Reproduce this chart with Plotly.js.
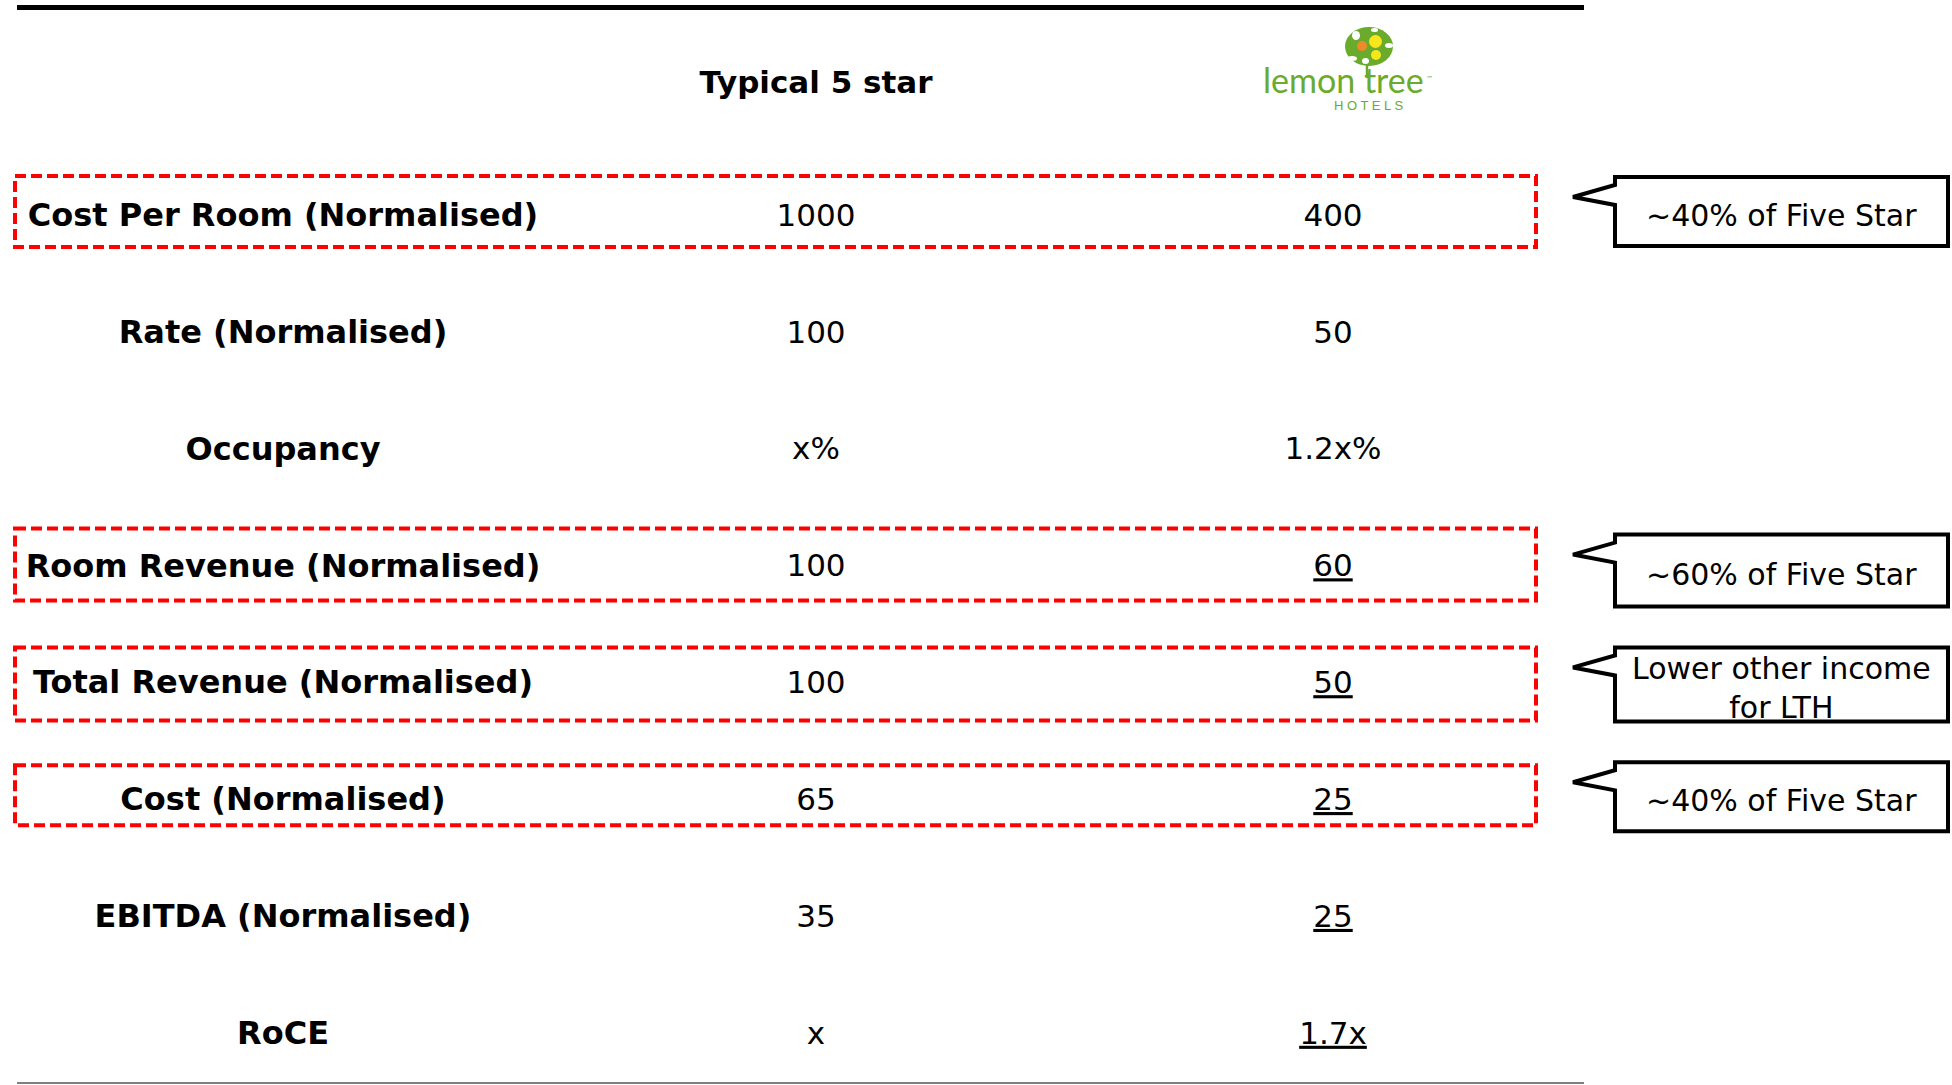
<!DOCTYPE html>
<html>
<head>
<meta charset="utf-8">
<script src="https://cdn.plot.ly/plotly-3.0.1.min.js"></script>
<style>html,body{margin:0;padding:0;background:#fff;}#chart{width:1952px;height:1085px;}</style>
</head>
<body>
<div id="chart"></div>
<script>
// ---------- DATA ----------
const rowLabels = ["Cost Per Room (Normalised)", "Rate (Normalised)", "Occupancy",
  "Room Revenue (Normalised)", "Total Revenue (Normalised)", "Cost (Normalised)",
  "EBITDA (Normalised)", "RoCE"];
const fiveStarValues = ["1000", "100", "x%", "100", "100", "65", "35", "x"];
const lemonTreeValues = ["400", "50", "1.2x%", "60", "50", "25", "25", "1.7x"];
const lemonTreeUnderlined = [false, false, false, true, true, true, true, true];
const columnHeader = "Typical 5 star";
const highlightedRows = ["Cost Per Room (Normalised)", "Room Revenue (Normalised)",
  "Total Revenue (Normalised)", "Cost (Normalised)"];
const calloutTexts = ["~40% of Five Star", "~60% of Five Star",
  "Lower other income<br>for LTH", "~40% of Five Star"];

// ---------- LAYOUT CONSTANTS ----------
const W = 1952, H = 1085;
const ROW0_PX = 214, ROW_STEP = 116.86, TEXT_SHIFT = 4;
const COL_X = [283, 816, 1333];
const FONT = "DejaVu Sans, Verdana, sans-serif";
const px = x => x / W;
const py = y => 1 - y / H;
const rowIdx = rowLabels.map((_, i) => i);
const rowPx = i => ROW0_PX + i * ROW_STEP;
const boxPad = [[38, 33], [36, 36], [34, 39], [33, 27]];
const calloutOff = [[-37, 32], [-30, 42], [-34, 40], [-36, 33]];

const traces = [
  { type: "scatter", mode: "text", x: rowLabels.map(() => COL_X[0]), y: rowIdx, text: rowLabels,
    textposition: "middle center", cliponaxis: false, hoverinfo: "skip",
    textfont: { family: FONT, size: 32, color: "#000", weight: "bold" } },
  { type: "scatter", mode: "text", x: fiveStarValues.map(() => COL_X[1]), y: rowIdx, text: fiveStarValues,
    textposition: "middle center", cliponaxis: false, hoverinfo: "skip",
    textfont: { family: FONT, size: 31, color: "#000" } },
  { type: "scatter", mode: "text", x: lemonTreeValues.map(() => COL_X[2]), y: rowIdx,
    text: lemonTreeValues.map((v, i) => lemonTreeUnderlined[i] ? "<u>" + v + "</u>" : v),
    textposition: "middle center", cliponaxis: false, hoverinfo: "skip",
    textfont: { family: FONT, size: 31, color: "#000" } },
  { type: "scatter", mode: "text", x: [COL_X[1]], y: [(81.5 - ROW0_PX) / ROW_STEP], text: [columnHeader],
    textposition: "middle center", cliponaxis: false, hoverinfo: "skip",
    textfont: { family: FONT, size: 31, color: "#000", weight: "bold" } }
];

const shapes = [];
const annotations = [];

// horizontal rules
shapes.push({ type: "line", xref: "paper", yref: "paper", x0: px(17), x1: px(1584), y0: py(7.5), y1: py(7.5),
  line: { color: "#000", width: 5 } });
shapes.push({ type: "line", xref: "paper", yref: "paper", x0: px(17), x1: px(1584), y0: py(1083), y1: py(1083),
  line: { color: "#808080", width: 2 } });

// dashed highlight boxes + callouts
highlightedRows.forEach((lab, k) => {
  const i = rowLabels.indexOf(lab);
  const c = rowPx(i);
  shapes.push({ type: "rect", xref: "x", yref: "paper", x0: 15, x1: 1536,
    y0: py(c - boxPad[k][0]), y1: py(c + boxPad[k][1]),
    line: { color: "#ff0000", width: 4, dash: "11px,5px" }, fillcolor: "rgba(0,0,0,0)" });
  const T = c + calloutOff[k][0], B = c + calloutOff[k][1];
  const L = 1615, R = 1948, tipX = 1573;
  const p = (x, y) => px(x).toFixed(5) + "," + py(y).toFixed(5);
  shapes.push({ type: "path", xref: "paper", yref: "paper",
    path: "M" + p(L, T) + " L" + p(R, T) + " L" + p(R, B) + " L" + p(L, B) + " L" + p(L, T + 28) +
      " L" + p(tipX, T + 20) + " L" + p(L, T + 8) + " Z",
    line: { color: "#000", width: 4 }, fillcolor: "#fff" });
  annotations.push({ xref: "paper", yref: "paper", x: px((L + R) / 2), y: py((T + B) / 2 + TEXT_SHIFT),
    text: calloutTexts[k], showarrow: false, xanchor: "center", yanchor: "middle",
    font: { family: FONT, size: 30, color: "#000" } });
});

// lemon tree logo (decorative)
const G = "#6aab2c";
shapes.push({ type: "circle", xref: "paper", yref: "paper", x0: px(1345), x1: px(1393), y0: py(27), y1: py(66),
  fillcolor: G, line: { width: 0 } });
shapes.push({ type: "line", xref: "paper", yref: "paper", x0: px(1367), x1: px(1367), y0: py(62), y1: py(78),
  line: { color: G, width: 2.5 } });
[[1352, 31, 1360, 40], [1347, 56, 1357, 61], [1385, 43, 1393, 48], [1362, 58, 1369, 64], [1371, 28, 1378, 32]].forEach(e => {
  shapes.push({ type: "circle", xref: "paper", yref: "paper", x0: px(e[0]), x1: px(e[2]), y0: py(e[1]), y1: py(e[3]),
    fillcolor: "#fff", line: { width: 0 } });
});
shapes.push({ type: "circle", xref: "paper", yref: "paper", x0: px(1357), x1: px(1367), y0: py(41), y1: py(51),
  fillcolor: "#f0892a", line: { width: 0 } });
shapes.push({ type: "circle", xref: "paper", yref: "paper", x0: px(1369), x1: px(1382), y0: py(35), y1: py(48),
  fillcolor: "#f6e61c", line: { width: 0 } });
shapes.push({ type: "circle", xref: "paper", yref: "paper", x0: px(1371), x1: px(1381), y0: py(50), y1: py(60),
  fillcolor: "#f6e61c", line: { width: 0 } });
annotations.push({ xref: "paper", yref: "paper", x: px(1343), y: py(100), text: "lemon tree", showarrow: false,
  xanchor: "center", yanchor: "bottom", borderpad: 0, borderwidth: 0,
  font: { family: "Lato, sans-serif", size: 34, color: G } });
annotations.push({ xref: "paper", yref: "paper", x: px(1426), y: py(79), text: "™", showarrow: false,
  xanchor: "left", yanchor: "middle", borderpad: 0, borderwidth: 0,
  font: { family: FONT, size: 7, color: G } });
annotations.push({ xref: "paper", yref: "paper", x: px(1368), y: py(98), text: "H O T E L S", showarrow: false,
  xanchor: "center", yanchor: "top", borderpad: 0, borderwidth: 0,
  font: { family: "Liberation Sans, sans-serif", size: 13, color: G } });

const layout = {
  width: W, height: H,
  margin: { l: 0, r: 0, t: 0, b: 0, pad: 0 },
  paper_bgcolor: "#fff", plot_bgcolor: "#fff",
  showlegend: false,
  xaxis: { range: [0, W], visible: false, fixedrange: true },
  yaxis: { range: [(H - ROW0_PX - TEXT_SHIFT) / ROW_STEP, -(ROW0_PX + TEXT_SHIFT) / ROW_STEP],
    visible: false, fixedrange: true },
  shapes: shapes,
  annotations: annotations
};

Plotly.newPlot("chart", traces, layout, { staticPlot: true, displayModeBar: false });
</script>
</body>
</html>
